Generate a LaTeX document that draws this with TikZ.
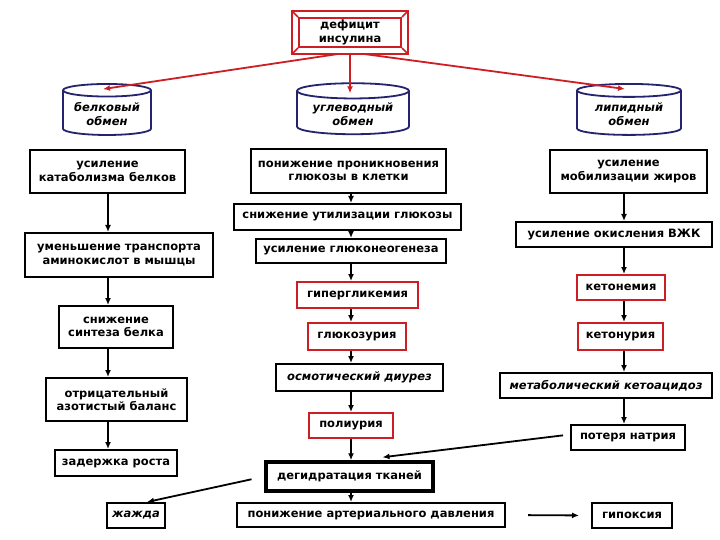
\documentclass[tikz,border=0pt]{standalone}
\usepackage{fontspec}
\setmainfont{DejaVu Sans}
\usetikzlibrary{arrows.meta}
\usetikzlibrary{shapes.geometric}
\usetikzlibrary{calc}
\usepackage{xcolor}
\definecolor{boxred}{RGB}{205,30,35}
\definecolor{cylblue}{RGB}{35,35,110}

\begin{document}
\begin{tikzpicture}[x=1pt,y=-1pt,
    every node/.style={font=\fontsize{11.5}{13.5}\selectfont\bfseries, align=center, inner sep=2pt},
    box/.style={draw, line width=2pt, fill=white},
    redbox/.style={draw=boxred, line width=2pt, fill=white},
    slanted/.style={font=\fontsize{11.5}{13.5}\selectfont\bfseries\itshape},
    cyl/.style={cylinder, shape border rotate=90, aspect=0.18, draw=cylblue, line width=1.8pt,
      fill=white, slanted},
    arr/.style={-{Latex[length=7pt,width=6pt]}, line width=1.8pt},
    redarr/.style={arr, draw=boxred}]
      \useasboundingbox[fill=white] (0,0) rectangle (720,540);

      % Top
      \node[redbox, minimum width=102pt, minimum height=29pt] (ins) at (350,32.5) {дефицит\\инсулина};
      \draw[boxred, line width=2pt] ($(ins.north west)+(-6,-6)$) rectangle ($(ins.south east)+(6,6)$);
      \foreach \c/\dx/\dy in {north west/-6/-6, north east/6/-6, south west/-6/6, south east/6/6}
        \draw[boxred, line width=1.5pt] (ins.\c) -- ++(\dx,\dy);

      % Cylinders
      \node[cyl, minimum width=88pt, minimum height=51pt] (belk) at (107,114) {белковый\\обмен};
      \node[cyl, minimum width=112pt, minimum height=51pt] (ugl) at (353,114) {углеводный\\обмен};
      \node[cyl, minimum width=104pt, minimum height=51pt] (lip) at (629,114) {липидный\\обмен};

      % Left column
      \node[box, minimum width=155pt, minimum height=43pt] (katab) at (107.5,171.5) {усиление\\катаболизма белков};
      \node[box, minimum width=188pt, minimum height=44pt] (transp) at (119,255) {уменьшение транспорта\\аминокислот в мышцы};
      \node[box, minimum width=114pt, minimum height=42pt] (sint) at (116,327) {снижение\\синтеза белка};
      \node[box, minimum width=141pt, minimum height=43pt] (balans) at (116.5,399.5) {отрицательный\\азотистый баланс};
      \node[box, minimum width=122pt, minimum height=26pt] (zader) at (116,463) {задержка роста};
      \node[box, slanted, minimum width=58pt, minimum height=25pt] (zhazhda) at (136,515.5) {жажда};

      % Middle column
      \node[box, minimum width=195pt, minimum height=44pt] (pronik) at (348.5,171) {понижение проникновения\\глюкозы в клетки};
      \node[box, minimum width=227pt, minimum height=26pt] (util) at (347.5,217) {снижение утилизации глюкозы};
      \node[box, minimum width=190pt, minimum height=24pt] (neo) at (351,251) {усиление глюконеогенеза};
      \node[redbox, minimum width=121pt, minimum height=26pt] (giper) at (357.5,295) {гипергликемия};
      \node[redbox, minimum width=98pt, minimum height=27pt] (glukoz) at (357,336.5) {глюкозурия};
      \node[box, slanted, minimum width=167pt, minimum height=27pt] (osmot) at (359.5,377.5) {осмотический диурез};
      \node[redbox, minimum width=84pt, minimum height=25pt] (poliur) at (351,425.5) {полиурия};
      \node[box, line width=3.5pt, minimum width=167pt, minimum height=29pt] (degid) at (349.5,476.5) {дегидратация тканей};
      \node[box, minimum width=268pt, minimum height=24pt] (davl) at (371,515) {понижение артериального давления};

      % Right column
      \node[box, minimum width=157pt, minimum height=43pt] (mobil) at (628.5,171.5) {усиление\\мобилизации жиров};
      \node[box, minimum width=196pt, minimum height=25pt] (vzhk) at (614,234.5) {усиление окисления ВЖК};
      \node[redbox, minimum width=88pt, minimum height=25pt] (ketonem) at (621,287.5) {кетонемия};
      \node[redbox, minimum width=85pt, minimum height=27pt] (ketonur) at (620.5,336.5) {кетонурия};
      \node[box, slanted, minimum width=212pt, minimum height=25pt] (acid) at (606,385.5) {метаболический кетоацидоз};
      \node[box, minimum width=114pt, minimum height=25pt] (natr) at (628,437.5) {потеря натрия};
      \node[box, minimum width=80pt, minimum height=25pt] (gipox) at (632,515.5) {гипоксия};

      % Arrows from the top
      \draw[redarr] ([xshift=-12pt,yshift=-6pt]ins.south) -- ([yshift=-6pt,xshift=-4pt]belk.north);
      \draw[redarr] ([yshift=-6pt]ins.south) -- ([yshift=-11pt]ins.south |- ugl.north);
      \draw[redarr] ([xshift=14pt,yshift=-6pt]ins.south) -- ([yshift=-6pt,xshift=-4pt]lip.north);

      % Columns
      \coordinate (L) at (108,0);
      \coordinate (M) at (351,0);
      \coordinate (R) at (624,0);
      \foreach \a/\b in {katab/transp,transp/sint,sint/balans,balans/zader}
        \draw[arr] (\a.south -| L) -- (\b.north -| L);
      \foreach \a/\b in {pronik/util,util/neo,neo/giper,giper/glukoz,glukoz/osmot,osmot/poliur,poliur/degid,degid/davl}
        \draw[arr] (\a.south -| M) -- (\b.north -| M);
      \foreach \a/\b in {mobil/vzhk,vzhk/ketonem,ketonem/ketonur,ketonur/acid,acid/natr}
        \draw[arr] (\a.south -| R) -- (\b.north -| R);

      % Side arrows
      \draw[arr, shorten <=13pt] (degid.west) -- ([xshift=11pt]zhazhda.north);
      \draw[arr, shorten <=7pt] ([yshift=3pt]natr.west) -- ([xshift=33pt,yshift=3pt]degid.north);
      \draw[arr, shorten <=22pt, shorten >=12pt] (davl.east) -- (gipox.west);

  \end{tikzpicture}
\end{document}
